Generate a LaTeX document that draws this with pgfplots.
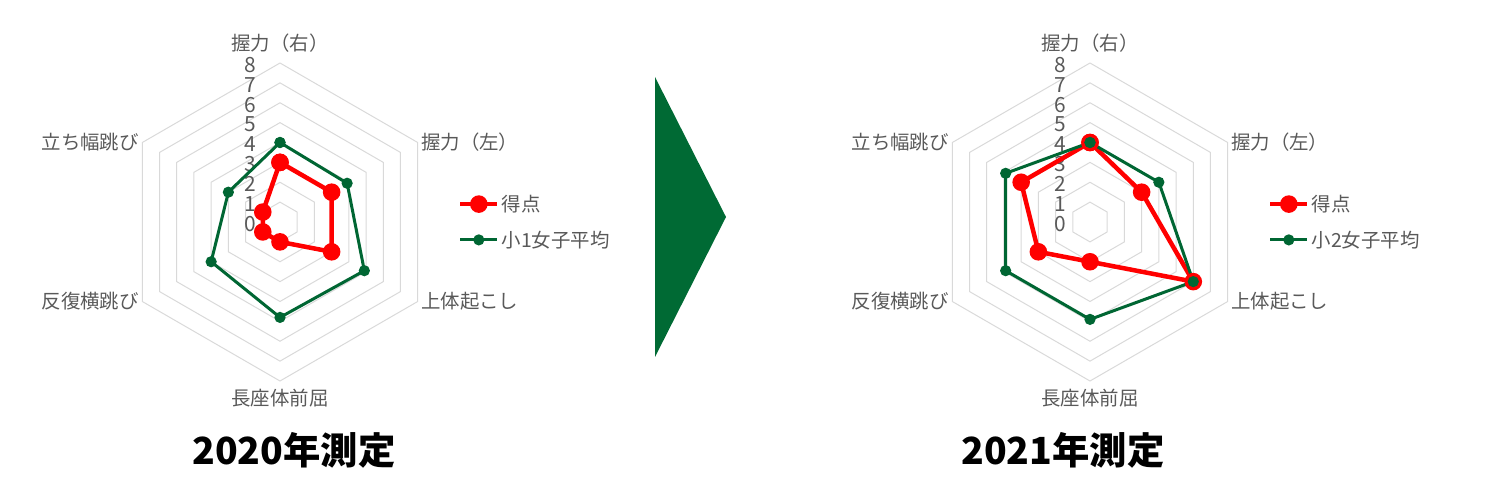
\documentclass[border=0pt]{standalone}
\usepackage{pgfplots}
\pgfplotsset{compat=1.18}
\usepackage{pgfplotstable}
\usepgfplotslibrary{polar}
\usepackage{fontspec}
\setmainfont{Noto Sans CJK JP}

\definecolor{avggreen}{RGB}{0,102,51}
\definecolor{scorered}{RGB}{255,0,0}
\definecolor{txt}{RGB}{89,89,89}
\definecolor{gridgray}{RGB}{217,217,217}
\definecolor{arrowgreen}{RGB}{0,106,52}

% angle (deg), score, grade average
\pgfplotstableread{
angle score avg
90  3 4
30  3 3.9
330 3 4.9
270 1 4.8
210 1 4
150 1 3
90  3 4
}\yearA

\pgfplotstableread{
angle score avg
90  4 4
30  3 4
330 6 6
270 2 4.9
210 3 4.9
150 4 4.9
90  4 4
}\yearB

\tikzset{lab/.style={font=\fontsize{19.5}{22}\selectfont, text=txt}}

\pgfplotsset{
  radar/.style={
    hide axis, clip=false, scale only axis,
    width=318bp, height=318bp,
    xmin=0, xmax=360, ymin=0, ymax=8,
    anchor=center,
    legend style={at={(1.05,0.5)}, anchor=west, draw=none, fill=none,
      font=\fontsize{19.5}{22}\selectfont, text=txt,
      row sep=14bp, cells={anchor=west}},
    legend image code/.code={
      \draw[mark repeat=2,mark phase=2,##1] plot coordinates {(0bp,0bp)(18.5bp,0bp)(37bp,0bp)};
    },
  },
  redline/.style={color=scorered, line width=4.5bp, mark=*, mark size=6.5bp,
    mark options={solid, fill=scorered}},
  greenline/.style={color=avggreen, line width=3bp, mark=*, mark size=4bp,
    mark options={solid, fill=avggreen}},
}

\newcommand{\radarbase}{%
  \pgfplotsinvokeforeach{1,...,8}{
    \addplot[gridgray, line width=1bp, forget plot]
      coordinates {(90,##1)(30,##1)(330,##1)(270,##1)(210,##1)(150,##1)(90,##1)};
  }
  \pgfplotsinvokeforeach{0,...,8}{
    \node[lab, font=\fontsize{21}{22}\selectfont, anchor=east, inner sep=0pt, xshift=-24bp, yshift=-2bp] at (axis cs:90,##1) {##1};
  }
  \node[lab, anchor=south, yshift=7bp] at (axis cs:90,8) {握力（右）};
  \node[lab, anchor=west] at (axis cs:30,8) {握力（左）};
  \node[lab, anchor=west] at (axis cs:330,8) {上体起こし};
  \node[lab, anchor=north, yshift=-5bp] at (axis cs:270,8) {長座体前屈};
  \node[lab, anchor=east] at (axis cs:210,8) {反復横跳び};
  \node[lab, anchor=east] at (axis cs:150,8) {立ち幅跳び};
}

\begin{document}
\begin{tikzpicture}
\path[use as bounding box] (0,0) rectangle (1500bp,488bp);

\begin{polaraxis}[radar, at={(280bp,266bp)}]
\radarbase
\addplot[redline] table[x=angle, y=score] {\yearA};
\addplot[greenline] table[x=angle, y=avg] {\yearA};
\legend{得点, 小1女子平均}
\end{polaraxis}

\begin{polaraxis}[radar, at={(1090bp,266bp)}]
\radarbase
\addplot[redline] table[x=angle, y=score] {\yearB};
\addplot[greenline] table[x=angle, y=avg] {\yearB};
\legend{得点, 小2女子平均}
\end{polaraxis}

\fill[arrowgreen] (655bp,411bp) -- (726bp,271bp) -- (655bp,131bp) -- cycle;

\node[font=\fontsize{37.5}{40}\selectfont\bfseries] at (294bp,38bp) {2020年測定};
\node[font=\fontsize{37.5}{40}\selectfont\bfseries] at (1063bp,38bp) {2021年測定};
\end{tikzpicture}
\end{document}
